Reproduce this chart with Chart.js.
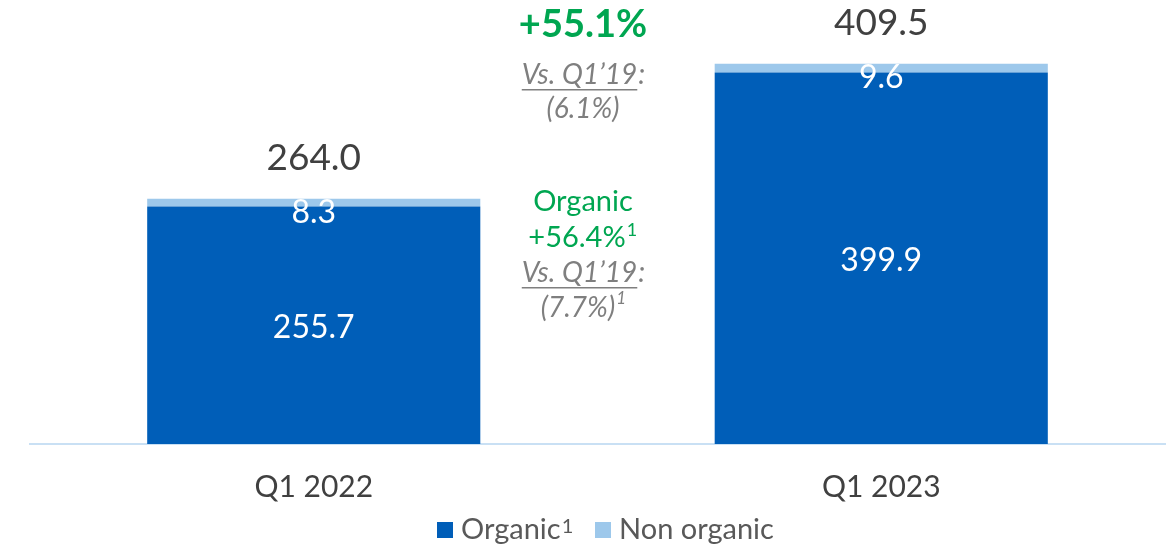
<!DOCTYPE html>
<html>
<head>
<meta charset="utf-8">
<script src="https://cdn.jsdelivr.net/npm/chart.js"></script>
<style>
  html, body { margin: 0; padding: 0; background: #fff; }
  #wrap { width: 1170px; height: 546px; position: relative; }
</style>
</head>
<body>
<div id="wrap"><canvas id="chart"></canvas></div>
<script>
// datos del grafico
const categories = ['Q1 2022', 'Q1 2023'];
const organic = [255.7, 399.9];
const nonOrganic = [8.3, 9.6];
const totals = [264.0, 409.5];

const FONT = 'Lato, "Open Sans", sans-serif';
const BLUE = '#005EB8';
const LIGHT = '#9DC8EB';
const GREEN = '#00A651';
const GREY = '#7F7F7F';
const DARK = '#404040';

// textos de la comparacion entre barras
const growthTop = ['+55.1%', 'Vs. Q1\u201919', '(6.1%)'];
const growthOrganic = ['Organic', '+56.4%', 'Vs. Q1\u201919', '(7.7%)'];

function drawUnderlined(ctx, text, cx, y, size) {
    // "Vs. Q1'19" subrayado y luego ":" sin subrayar
    ctx.font = `italic ${size}px ${FONT}`;
    const w = ctx.measureText(text).width;
    const wc = ctx.measureText(':').width;
    const x0 = cx - (w + wc) / 2;
    ctx.textAlign = 'left';
    ctx.fillText(text, x0, y);
    ctx.fillText(':', x0 + w + 1, y);
    ctx.fillRect(x0, y + size * 0.5, w, 1.5);
}

const labelsPlugin = {
    id: 'labels',
    afterDatasetsDraw(chart) {
        const ctx = chart.ctx;
        const m0 = chart.getDatasetMeta(0);
        const m1 = chart.getDatasetMeta(1);
        ctx.save();
        ctx.textBaseline = 'middle';
        ctx.textAlign = 'center';
        categories.forEach((c, i) => {
            const b0 = m0.data[i], b1 = m1.data[i];
            ctx.fillStyle = '#fff';
            ctx.font = `32px ${FONT}`;
            ctx.fillText(organic[i].toFixed(1), b0.x, (b0.y + b0.base) / 2 + 2);
            ctx.fillText(nonOrganic[i].toFixed(1), b1.x, b1.y + 14);
            ctx.fillStyle = DARK;
            ctx.font = `37px ${FONT}`;
            ctx.fillText(totals[i].toFixed(1), b1.x, b1.y - 41);
        });

        const cx = 583;
        ctx.fillStyle = GREEN;
        ctx.font = `bold 38px ${FONT}`;
        ctx.fillText(growthTop[0], cx, 25);
        ctx.fillStyle = GREY;
        drawUnderlined(ctx, growthTop[1], cx, 75, 28);
        ctx.textAlign = 'center';
        ctx.font = `italic 28px ${FONT}`;
        ctx.fillText(growthTop[2], cx, 109);

        ctx.fillStyle = GREEN;
        ctx.font = `29px ${FONT}`;
        ctx.fillText(growthOrganic[0], cx, 202);
        const w = ctx.measureText(growthOrganic[1]).width;
        ctx.fillText(growthOrganic[1], cx - 6, 238);
        ctx.font = `18px ${FONT}`;
        ctx.textAlign = 'left';
        ctx.fillText('1', cx - 6 + w / 2 + 1, 230);
        ctx.fillStyle = GREY;
        drawUnderlined(ctx, growthOrganic[2], cx, 273, 28);
        ctx.textAlign = 'center';
        ctx.font = `italic 28px ${FONT}`;
        const w2 = ctx.measureText(growthOrganic[3]).width;
        ctx.fillText(growthOrganic[3], cx - 5, 308);
        ctx.font = `italic 17px ${FONT}`;
        ctx.textAlign = 'left';
        ctx.fillText('1', cx - 5 + w2 / 2 + 1, 299);

        // leyenda
        ctx.textAlign = 'left';
        ctx.fillStyle = BLUE;
        ctx.fillRect(437, 522, 16, 16);
        ctx.fillStyle = '#595959';
        ctx.font = `29px ${FONT}`;
        ctx.fillText('Organic', 461, 530);
        const wo = ctx.measureText('Organic').width;
        ctx.font = `20px ${FONT}`;
        ctx.fillText('1', 461 + wo + 1, 527);
        ctx.fillStyle = LIGHT;
        ctx.fillRect(595, 522, 16, 16);
        ctx.fillStyle = '#595959';
        ctx.font = `29px ${FONT}`;
        ctx.fillText('Non organic', 619, 530);
        ctx.restore();
    }
};

new Chart(document.getElementById('chart'), {
    type: 'bar',
    data: {
        labels: categories,
        datasets: [
            { label: 'Organic', data: organic, backgroundColor: BLUE },
            { label: 'Non organic', data: nonOrganic, backgroundColor: LIGHT }
        ]
    },
    options: {
        responsive: true,
        maintainAspectRatio: false,
        animation: false,
        layout: { padding: { left: 30, right: 5, top: 0, bottom: 16 } },
        categoryPercentage: 1,
        barPercentage: 0.587,
        plugins: { legend: { display: false }, tooltip: { enabled: false } },
        scales: {
            x: {
                stacked: true,
                grid: { display: false, drawTicks: false },
                border: { display: true, color: '#C9E0F4', width: 2 },
                ticks: { color: DARK, font: { family: FONT, size: 30 }, padding: 25 }
            },
            y: {
                stacked: true,
                display: false,
                min: 0,
                max: 478
            }
        }
    },
    plugins: [labelsPlugin]
});
</script>
</body>
</html>
